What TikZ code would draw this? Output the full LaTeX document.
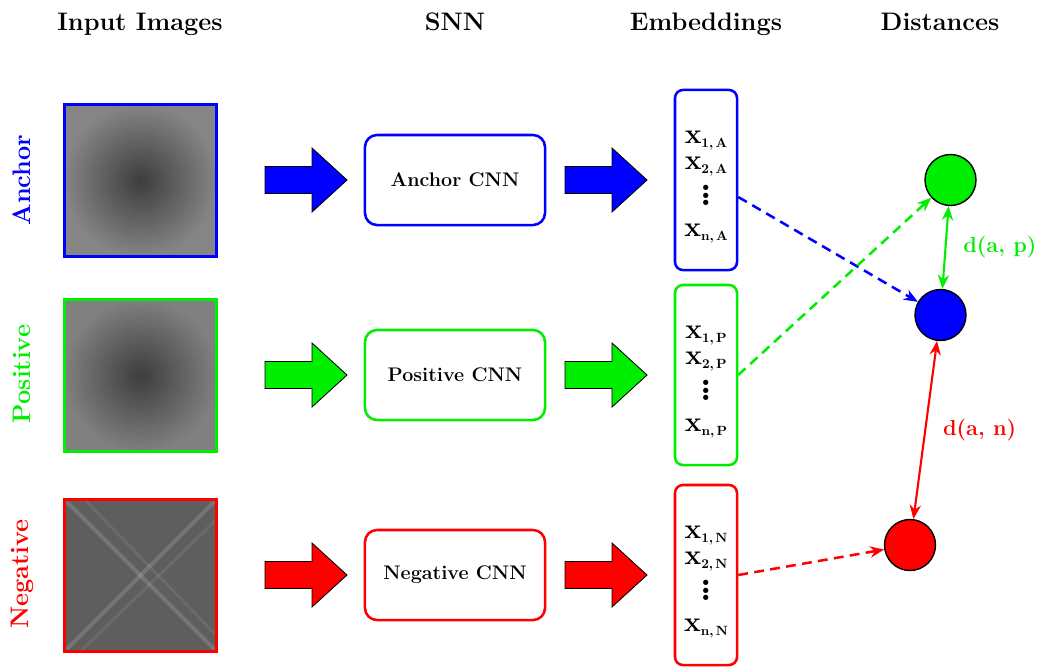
\documentclass[tikz,border=0pt]{standalone}
\usepackage{fontspec}
\usepackage{amsmath, amsfonts, amssymb}
\usetikzlibrary{arrows.meta}

\definecolor{ancblue}{RGB}{0,0,255}
\definecolor{posgreen}{RGB}{0,238,0}
\definecolor{negred}{RGB}{255,0,0}

\newcommand{\xsub}[2]{x\raisebox{-0.35ex}{\fontsize{9.5}{11}\selectfont\bfseries #1,\,#2}}
\newcommand{\embvec}[1]{\xsub{1}{#1}\\ \xsub{2}{#1}\\[-2pt] \scalebox{1.3}{$\vdots$}\\[3.6pt] \xsub{n}{#1}}
\newcommand{\blockarrow}[3]{\filldraw[fill=#1, draw=black, line width=0.6pt, line join=miter] (#2,#3-13.5) -- (#2+47,#3-13.5) -- (#2+47,#3-32) -- (#2+82,#3) -- (#2+47,#3+32) -- (#2+47,#3+13.5) -- (#2,#3+13.5) -- cycle;}

\tikzset{
  heading/.style={font=\fontsize{18}{22}\selectfont\bfseries, anchor=base},
  rowlabel/.style={font=\fontsize{18}{22}\selectfont\bfseries, rotate=90},
  photo/.style={draw, line width=2.5pt, minimum size=3.8cm, inner sep=0pt},
  cnn/.style={draw, fill=white, line width=1.8pt, rounded corners=0.3cm, minimum width=4.5cm, minimum height=2.25cm, font=\fontsize{14}{16}\selectfont\bfseries},
  emb/.style={draw, line width=1.8pt, rounded corners=0.2cm, minimum width=1.55cm, minimum height=4.5cm, inner sep=0pt},
  embtext/.style={inner sep=0pt, align=center, font=\fontsize{20}{18.4}\selectfont\bfseries},
  dist/.style={circle, draw=black, line width=1pt, minimum size=1.275cm, inner sep=0pt},
  link/.style={line width=1.8pt, dash pattern=on 7pt off 4.5pt, -{Stealth[length=10pt, width=8pt]}},
  gap/.style={line width=1.5pt, {Stealth[length=10pt, width=8pt]}-{Stealth[length=10pt, width=8pt]}},
  dlabel/.style={font=\fontsize{15.5}{18}\selectfont\bfseries}
}

\begin{document}
\begin{tikzpicture}[x=0.025cm, y=-0.025cm]
\useasboundingbox (0,0) rectangle (1059,667);

% column titles
\node[heading] (tImg) at (140,30) {Input Images};
\node[heading] (tSnn) at (455,30) {SNN};
\node[heading] (tEmb) at (706,30) {Embeddings};
\node[heading] (tDist) at (940,30) {Distances};

% row titles
\node[rowlabel, ancblue] (rA) at (22,180) {Anchor};
\node[rowlabel, posgreen] (rP) at (22,374) {Positive};
\node[rowlabel, negred] (rN) at (22,574) {Negative};

% input images
\node[photo, draw=ancblue, inner color=black!76, outer color=black!48] (imgA) at (140.5,180.5) {};
\node[photo, draw=posgreen, inner color=black!76, outer color=black!50] (imgP) at (140.5,375.5) {};
\node[photo, draw=negred, fill=black!63, path picture={
  \draw[white, opacity=0.15, line width=3pt] (path picture bounding box.south west) -- (path picture bounding box.north east);
  \draw[white, opacity=0.15, line width=3pt] (path picture bounding box.north west) -- (path picture bounding box.south east);
  \draw[white, opacity=0.08, line width=2pt] ([xshift=0.5cm]path picture bounding box.north west) -- ([yshift=0.4cm]path picture bounding box.south east);
  \draw[white, opacity=0.08, line width=2pt] ([yshift=-0.5cm]path picture bounding box.north east) -- ([xshift=0.4cm]path picture bounding box.south west);
}] (imgN) at (140.5,575.5) {};

% input arrows
\blockarrow{ancblue}{265}{180}
\blockarrow{posgreen}{265}{375}
\blockarrow{negred}{265}{575}

% the three networks
\node[cnn, draw=ancblue] (cnnA) at (455,180) {Anchor CNN};
\node[cnn, draw=posgreen] (cnnP) at (455,375) {Positive CNN};
\node[cnn, draw=negred] (cnnN) at (455,575) {Negative CNN};

% output arrows
\blockarrow{ancblue}{565}{180}
\blockarrow{posgreen}{565}{375}
\blockarrow{negred}{565}{575}

% embeddings
\node[emb, draw=ancblue] (embA) at (706,180) {};
\node[emb, draw=posgreen] (embP) at (706,375) {};
\node[emb, draw=negred] (embN) at (706,575) {};
\node[embtext] (vecA) at (706,187) {\embvec{A}};
\node[embtext] (vecP) at (706,382) {\embvec{P}};
\node[embtext] (vecN) at (706,582) {\embvec{N}};

% distance points
\node[dist, fill=posgreen] (cP) at (950.5,180) {};
\node[dist, fill=ancblue] (cA) at (940.5,315) {};
\node[dist, fill=negred] (cN) at (910,545) {};

\draw[link, ancblue] ([yshift=-0.425cm]embA.east) -- (cA);
\draw[link, posgreen] (embP.east) -- (cP);
\draw[link, negred] (embN.east) -- (cN);

\draw[gap, posgreen] (cP) -- (cA) node[midway, right, xshift=0.3cm, dlabel] {d(a, p)};
\draw[gap, negred] (cN) -- (cA) node[midway, right, xshift=0.3cm, dlabel] {d(a, n)};
\end{tikzpicture}
\end{document}
